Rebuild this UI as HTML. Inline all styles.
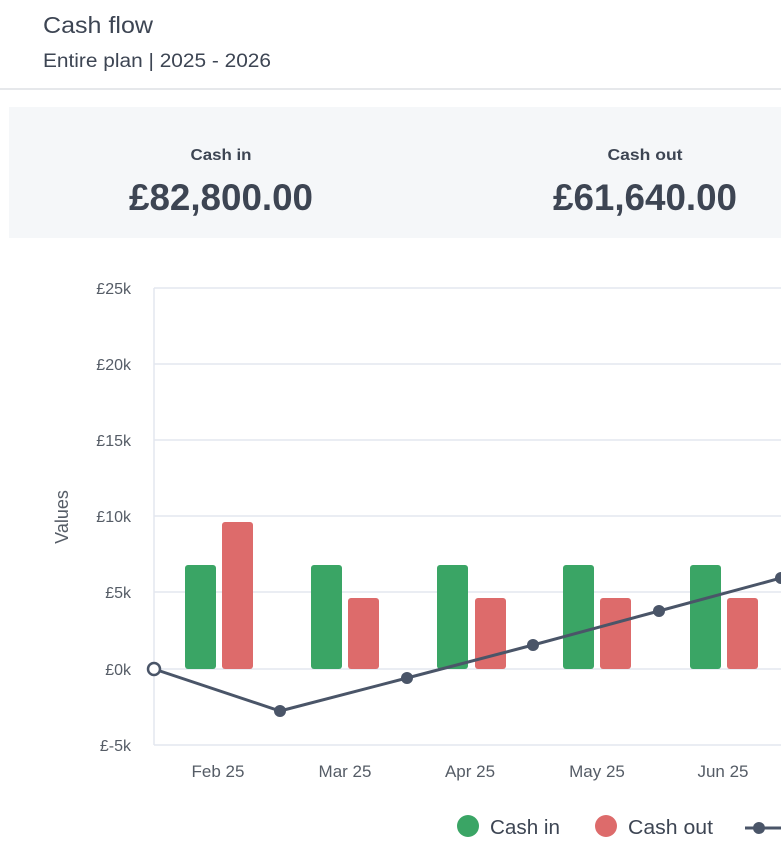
<!DOCTYPE html>
<html><head><style>
body{margin:0;width:781px;height:854px;overflow:hidden;background:#fff;font-family:"Liberation Sans",sans-serif;color:#3d4553}
</style></head><body>
<svg width="781" height="854" xmlns="http://www.w3.org/2000/svg" style="position:absolute;left:0;top:0;font-family:'Liberation Sans',sans-serif">
<text x="43" y="33" font-size="23" fill="#3d4553" textLength="110" lengthAdjust="spacingAndGlyphs">Cash flow</text>
<text x="43" y="67" font-size="19" fill="#3d4553" textLength="228" lengthAdjust="spacingAndGlyphs">Entire plan | 2025 - 2026</text>
<rect x="0" y="88" width="781" height="2" fill="#e6e8eb"/>
<rect x="9" y="107" width="772" height="131" fill="#f5f7f9"/>
<text x="221" y="160" font-size="16" font-weight="bold" text-anchor="middle" fill="#3d4553" textLength="61" lengthAdjust="spacingAndGlyphs">Cash in</text>
<text x="221" y="210" font-size="37" font-weight="bold" text-anchor="middle" fill="#3d4553" textLength="184" lengthAdjust="spacingAndGlyphs">£82,800.00</text>
<text x="645" y="160" font-size="16" font-weight="bold" text-anchor="middle" fill="#3d4553" textLength="75" lengthAdjust="spacingAndGlyphs">Cash out</text>
<text x="645" y="210" font-size="37" font-weight="bold" text-anchor="middle" fill="#3d4553" textLength="184" lengthAdjust="spacingAndGlyphs">£61,640.00</text>
<g stroke="#e3e7ef" stroke-width="1.5">
<line x1="154" y1="288" x2="781" y2="288"/><line x1="154" y1="364" x2="781" y2="364"/>
<line x1="154" y1="440" x2="781" y2="440"/><line x1="154" y1="516" x2="781" y2="516"/>
<line x1="154" y1="592" x2="781" y2="592"/><line x1="154" y1="669" x2="781" y2="669"/>
<line x1="154" y1="745" x2="781" y2="745"/><line x1="154" y1="288" x2="154" y2="745"/>
</g>
<g font-size="16" fill="#555c66" text-anchor="end">
<text x="131" y="294">£25k</text><text x="131" y="370">£20k</text><text x="131" y="446">£15k</text>
<text x="131" y="522">£10k</text><text x="131" y="598">£5k</text><text x="131" y="675">£0k</text><text x="131" y="751">£-5k</text>
</g>
<text transform="translate(68,517) rotate(-90)" font-size="18" fill="#555c66" text-anchor="middle">Values</text>
<g fill="#3aa565">
<rect x="185" y="565" width="31" height="104" rx="3"/><rect x="311" y="565" width="31" height="104" rx="3"/>
<rect x="437" y="565" width="31" height="104" rx="3"/><rect x="563" y="565" width="31" height="104" rx="3"/>
<rect x="690" y="565" width="31" height="104" rx="3"/>
</g>
<g fill="#dd6b6b">
<rect x="222" y="522" width="31" height="147" rx="3"/><rect x="348" y="598" width="31" height="71" rx="3"/>
<rect x="475" y="598" width="31" height="71" rx="3"/><rect x="600" y="598" width="31" height="71" rx="3"/>
<rect x="727" y="598" width="31" height="71" rx="3"/>
</g>
<polyline points="154,669 280,711 407,678 533,645 659,611 781,578" fill="none" stroke="#4a5568" stroke-width="3"/>
<g fill="#4a5568">
<circle cx="280" cy="711" r="6"/><circle cx="407" cy="678" r="6"/><circle cx="533" cy="645" r="6"/><circle cx="659" cy="611" r="6"/><circle cx="781" cy="578" r="6"/>
</g>
<circle cx="154" cy="669" r="6" fill="#fff" stroke="#4a5568" stroke-width="2.5"/>
<g font-size="17" fill="#555c66" text-anchor="middle">
<text x="218" y="777">Feb 25</text><text x="345" y="777">Mar 25</text><text x="470" y="777">Apr 25</text><text x="597" y="777">May 25</text><text x="723" y="777">Jun 25</text>
</g>
<circle cx="468" cy="826" r="11" fill="#3aa565"/>
<text x="490" y="834" font-size="20" fill="#3d4553" textLength="70" lengthAdjust="spacingAndGlyphs">Cash in</text>
<circle cx="606" cy="826" r="11" fill="#dd6b6b"/>
<text x="628" y="834" font-size="20" fill="#3d4553" textLength="85" lengthAdjust="spacingAndGlyphs">Cash out</text>
<line x1="745" y1="828" x2="781" y2="828" stroke="#4a5568" stroke-width="3"/>
<circle cx="759" cy="828" r="6" fill="#4a5568"/>
</svg>
</body></html>
